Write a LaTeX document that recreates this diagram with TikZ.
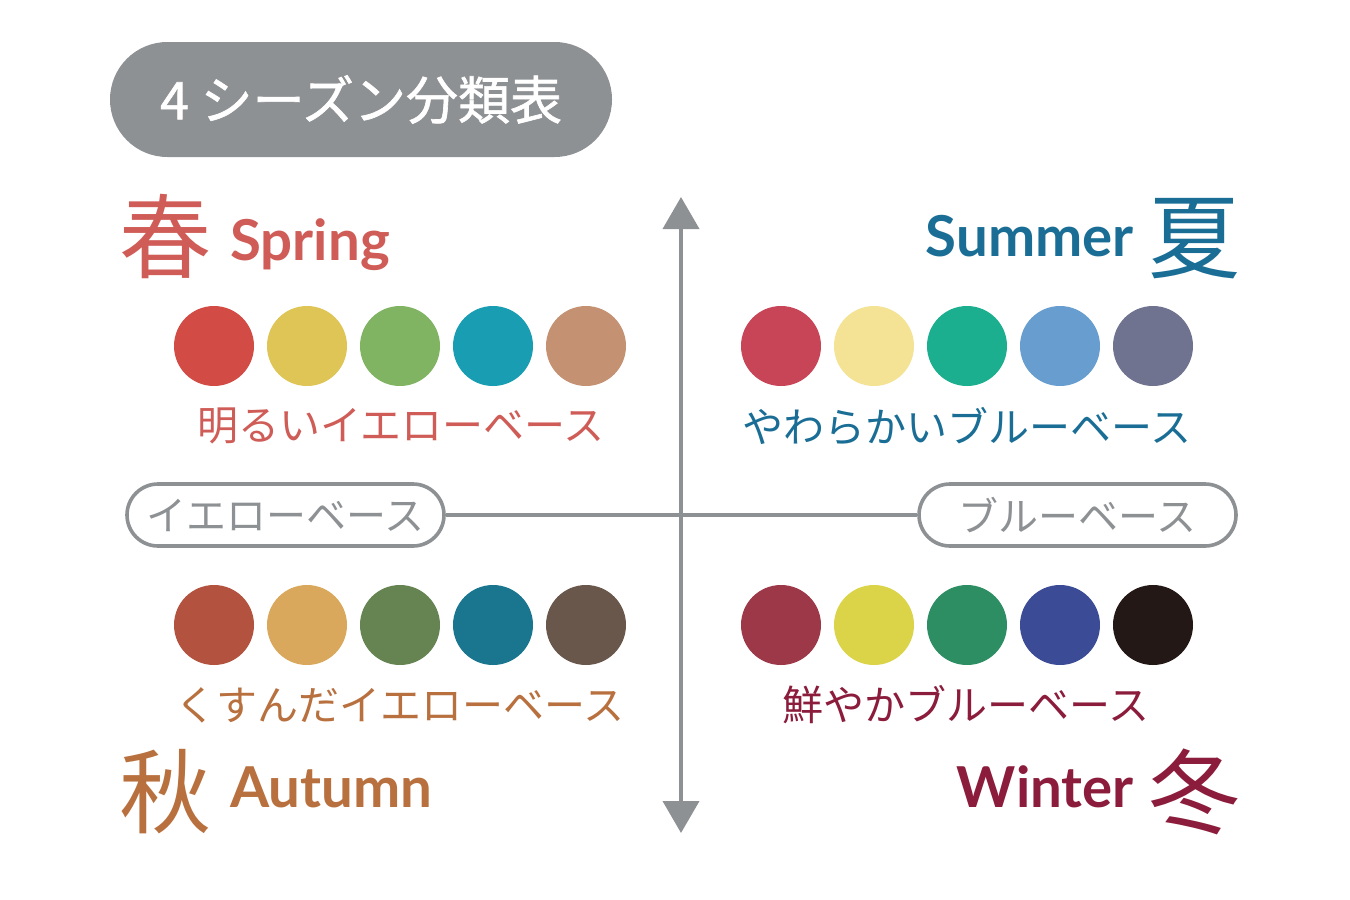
\documentclass[tikz,border=0pt]{standalone}
\usepackage{fontspec}
\setmainfont{Noto Sans CJK JP}
\newfontfamily\titlefont[FakeBold=1.2]{Noto Sans CJK JP}
\newfontfamily\enfont{Lato}
\usetikzlibrary{arrows.meta}
\definecolor{axisgray}{HTML}{8E9193}
\definecolor{springc}{HTML}{CF5C56}
\definecolor{summerc}{HTML}{1A6E96}
\definecolor{autumnc}{HTML}{B8703E}
\definecolor{winterc}{HTML}{8B1C3C}
% spring palette
\definecolor{sA}{HTML}{D24C45}\definecolor{sB}{HTML}{DFC456}\definecolor{sC}{HTML}{80B462}\definecolor{sD}{HTML}{199DB3}\definecolor{sE}{HTML}{C49272}
% summer palette
\definecolor{uA}{HTML}{C84457}\definecolor{uB}{HTML}{F4E395}\definecolor{uC}{HTML}{1CAF8F}\definecolor{uD}{HTML}{689ECF}\definecolor{uE}{HTML}{6F738F}
% autumn palette
\definecolor{aA}{HTML}{B3533F}\definecolor{aB}{HTML}{DAA85C}\definecolor{aC}{HTML}{668452}\definecolor{aD}{HTML}{1A758F}\definecolor{aE}{HTML}{6A574C}
% winter palette
\definecolor{wA}{HTML}{9C3848}\definecolor{wB}{HTML}{DBD448}\definecolor{wC}{HTML}{2E8E63}\definecolor{wD}{HTML}{3B4B96}\definecolor{wE}{HTML}{231816}
\begin{document}
\begin{tikzpicture}[x=0.5pt,y=-0.5pt,
  titlepill/.style={fill=axisgray, text=white, inner sep=0pt,
    minimum width=251pt, minimum height=57.5pt, rounded corners=28.7pt,
    font=\titlefont\fontsize{26pt}{30pt}\selectfont},
  basepill/.style={draw=axisgray, line width=1.8pt, fill=white, text=axisgray, inner sep=0pt,
    minimum width=158.5pt, minimum height=31pt, rounded corners=15.5pt,
    font=\fontsize{20pt}{24pt}\selectfont},
  dot/.style={circle, inner sep=0pt, minimum size=40pt},
  desc/.style={inner sep=0pt, font=\fontsize{20.5pt}{24pt}\selectfont},
  kanji/.style={inner sep=0pt, anchor=base, font=\fontsize{46pt}{50pt}\selectfont},
  eng/.style={inner sep=0pt, font=\enfont\bfseries\fontsize{28.2pt}{31pt}\selectfont},
  axis/.style={draw=axisgray, line width=2pt}
]
\useasboundingbox[fill=white] (0,0) rectangle (1350,900);

% title
\node[titlepill] (title) at (361,99.5) {4 シーズン分類表};

% axes
\coordinate (top) at (681,197);
\coordinate (bot) at (681,833);
\node[basepill] (lp) at (285.5,515) {イエローベース};
\node[basepill] (rp) at (1077.5,515) {ブルーベース};
\draw[axis] (lp.east) -- (rp.west);
\draw[axis, {Triangle[width=18pt,length=16pt]}-{Triangle[width=18pt,length=16pt]}] (top) -- (bot);

% season headings
\node[kanji, text=springc] (haru) at (165,271) {春};
\node[eng, text=springc, anchor=base west] (spring) at (230,260) {Spring};
\node[kanji, text=summerc] (natsu) at (1194,271) {夏};
\node[eng, text=summerc, anchor=base east] (summer) at (1134,256) {Summer};
\node[kanji, text=autumnc] (aki) at (165,826) {秋};
\node[eng, text=autumnc, anchor=base west] (autumn) at (230,807) {Autumn};
\node[kanji, text=winterc] (fuyu) at (1194,826) {冬};
\node[eng, text=winterc, anchor=base east] (winter) at (1134,807) {Winter};

% colour dots
\node[dot, fill=sA] (s1) at (214,346) {};
\node[dot, fill=sB] (s2) at (307,346) {};
\node[dot, fill=sC] (s3) at (400,346) {};
\node[dot, fill=sD] (s4) at (493,346) {};
\node[dot, fill=sE] (s5) at (586,346) {};
\node[dot, fill=uA] (u1) at (781,346) {};
\node[dot, fill=uB] (u2) at (874,346) {};
\node[dot, fill=uC] (u3) at (967,346) {};
\node[dot, fill=uD] (u4) at (1060,346) {};
\node[dot, fill=uE] (u5) at (1153,346) {};
\node[dot, fill=aA] (a1) at (214,625) {};
\node[dot, fill=aB] (a2) at (307,625) {};
\node[dot, fill=aC] (a3) at (400,625) {};
\node[dot, fill=aD] (a4) at (493,625) {};
\node[dot, fill=aE] (a5) at (586,625) {};
\node[dot, fill=wA] (w1) at (781,625) {};
\node[dot, fill=wB] (w2) at (874,625) {};
\node[dot, fill=wC] (w3) at (967,625) {};
\node[dot, fill=wD] (w4) at (1060,625) {};
\node[dot, fill=wE] (w5) at (1153,625) {};

% descriptions
\node[desc, text=springc] (sd) at (401,426) {明るいイエローベース};
\node[desc, text=summerc] (ud) at (967,426) {やわらかいブルーベース};
\node[desc, text=autumnc] (ad) at (400,705) {くすんだイエローベース};
\node[desc, text=winterc] (wd) at (966,705) {鮮やかブルーベース};
\end{tikzpicture}
\end{document}
